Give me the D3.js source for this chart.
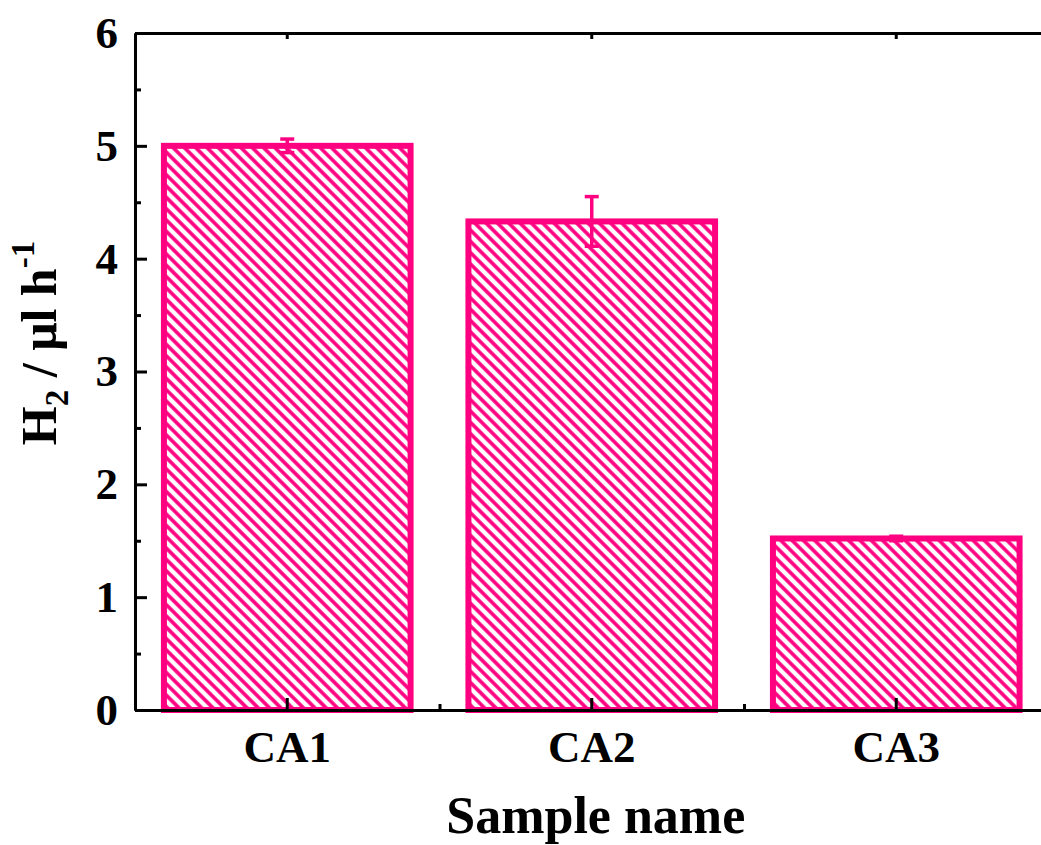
<!DOCTYPE html>
<html>
<head>
<meta charset="utf-8">
<script src="https://cdn.jsdelivr.net/npm/d3@7"></script>
<style>
  body { margin: 0; background: #fff; }
  text { font-family: "Liberation Serif", "Times New Roman", serif; font-weight: bold; }
</style>
</head>
<body>
<div id="chart"></div>
<script>
// data
var samples = ["CA1", "CA2", "CA3"];
var h2Rate = [5.00, 4.33, 1.52];
var h2Err = [0.06, 0.22, 0.02];
var yTicks = [0, 1, 2, 3, 4, 5, 6];

function init() {
    var svgWidth = 1041;
    var svgHeight = 845;
    var margin = { top: 33, left: 135, bottom: 135 };
    var plotRight = 1048.5;
    var pink = "#ff0080";

    var svg = d3.select("#chart")
        .append("svg")
        .attr("width", svgWidth)
        .attr("height", svgHeight);

    // hatch for the bars
    var defs = svg.append("defs");
    var pat = defs.append("pattern")
        .attr("id", "hatch")
        .attr("patternUnits", "userSpaceOnUse")
        .attr("width", 8)
        .attr("height", 8)
        .attr("patternTransform", "rotate(-45)");
    pat.append("rect").attr("width", 8).attr("height", 8).attr("fill", "#fff");
    pat.append("line")
        .attr("x1", 2).attr("y1", 0).attr("x2", 2).attr("y2", 8)
        .attr("stroke", pink).attr("stroke-width", 3.6);

    var x = d3.scaleBand()
        .domain(samples)
        .range([margin.left, plotRight])
        .paddingInner(0.19)
        .paddingOuter(0.095);

    var xMinor = d3.scaleLinear()
        .domain([0, samples.length])
        .range([margin.left, plotRight]);

    var y = d3.scaleLinear()
        .domain([0, 6])
        .range([svgHeight - margin.bottom, margin.top]);

    var bottomY = y(0);
    var topY = y(6);

    // bars
    var bars = samples.map(function(s, i) { return { name: s, v: h2Rate[i], e: h2Err[i] }; });

    svg.append("g").selectAll("rect")
        .data(bars)
        .enter()
        .append("rect")
        .attr("x", d => x(d.name))
        .attr("y", d => y(d.v))
        .attr("width", x.bandwidth())
        .attr("height", d => bottomY - y(d.v))
        .attr("fill", "url(#hatch)")
        .attr("stroke", pink)
        .attr("stroke-width", 6);

    // error bars
    var eg = svg.append("g").attr("stroke", pink).attr("stroke-width", 3.5);
    bars.forEach(function(d) {
        var cx = x(d.name) + x.bandwidth() / 2;
        eg.append("line").attr("x1", cx).attr("x2", cx).attr("y1", y(d.v + d.e)).attr("y2", y(d.v - d.e));
        eg.append("line").attr("x1", cx - 7).attr("x2", cx + 7).attr("y1", y(d.v + d.e)).attr("y2", y(d.v + d.e));
        eg.append("line").attr("x1", cx - 7).attr("x2", cx + 7).attr("y1", y(d.v - d.e)).attr("y2", y(d.v - d.e));
    });

    // axes
    var leftAxis = d3.axisLeft(y).tickValues(yTicks).tickSize(-12).tickSizeOuter(0).tickPadding(17).tickFormat(d3.format("d"));
    var leftMinor = d3.axisLeft(y).tickValues(d3.range(0.5, 6, 1)).tickSize(-6).tickSizeOuter(0).tickFormat("");
    var botAxis = d3.axisBottom(x).tickSize(-12).tickSizeOuter(0).tickPadding(20);
    var botMinor = d3.axisBottom(xMinor).tickValues([1, 2]).tickSize(-6).tickSizeOuter(0).tickFormat("");
    var topAxis = d3.axisTop(x).tickSize(-6).tickSizeOuter(0).tickFormat("");

    function style(g) {
        g.selectAll("path, line").attr("stroke", "#000").attr("stroke-width", 3);
        g.selectAll("text").attr("fill", "#000").style("font-size", "45px");
    }

    svg.append("g").attr("transform", `translate(${margin.left},0)`).call(leftAxis).call(style);
    svg.append("g").attr("transform", `translate(${margin.left},0)`).call(leftMinor).call(style);
    svg.append("g").attr("transform", `translate(0,${bottomY})`).call(botAxis).call(style);
    svg.append("g").attr("transform", `translate(0,${bottomY})`).call(botMinor).call(style);
    svg.append("g").attr("transform", `translate(0,${topY})`).call(topAxis).call(style);

    svg.selectAll(".tick text").attr("font-family", null);

    // axis titles
    svg.append("text")
        .attr("x", (margin.left + plotRight) / 2 + 4)
        .attr("y", 833)
        .attr("text-anchor", "middle")
        .style("font-size", "52px")
        .text("Sample name");

    var yt = svg.append("text")
        .attr("transform", "translate(56,343) rotate(-90)")
        .attr("text-anchor", "middle")
        .style("font-size", "50px");
    yt.append("tspan").text("H");
    yt.append("tspan").attr("dy", 12).style("font-size", "33px").text("2");
    yt.append("tspan").attr("dy", -12).text(" / \u03bcl h");
    yt.append("tspan").attr("dy", -22).style("font-size", "33px").text("-1");
}
window.addEventListener('load', init, false);
</script>
</body>
</html>
